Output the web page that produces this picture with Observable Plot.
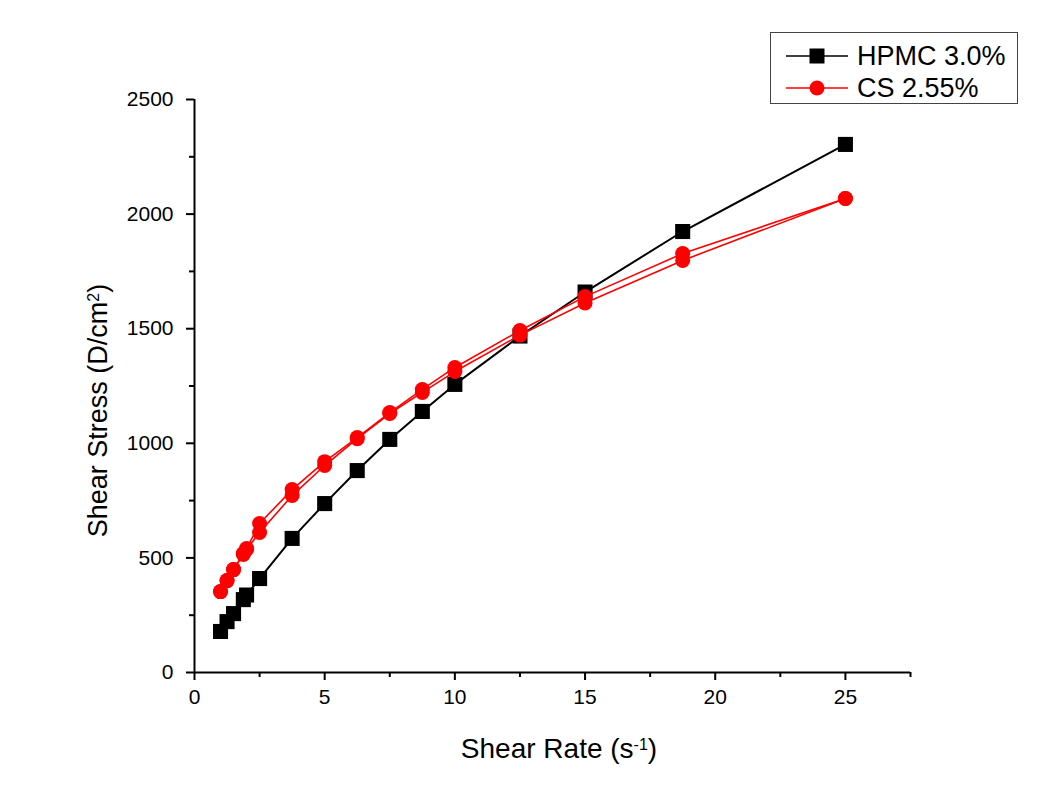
<!DOCTYPE html>
<html>
<head>
<meta charset="utf-8">
<script src="https://cdn.jsdelivr.net/npm/d3@7"></script>
<script src="https://cdn.jsdelivr.net/npm/@observablehq/plot@0.6"></script>
<style>
  html, body { margin: 0; padding: 0; background: #fff; }
  #wrap { position: relative; width: 1041px; height: 796px; font-family: "Liberation Sans", Arial, sans-serif; }
  #legend { position: absolute; left: 770px; top: 32px; width: 246px; height: 70px; border: 1.5px solid #444; background: #fff; box-sizing: content-box; }
  .lrow { display: flex; align-items: center; height: 32px; font-size: 27px; color: #000; }
  .lrow svg { margin-left: 15px; margin-right: 9px; }
</style>
</head>
<body>
<div id="wrap"></div>
<script>
// Data
const shearRate = [1, 1.25, 1.5, 1.875, 2, 2.5, 3.75, 5, 6.25, 7.5, 8.75, 10, 12.5, 15, 18.75, 25];
const hpmc30   = [179, 222, 257, 318, 338, 410, 585, 737, 881, 1017, 1139, 1257, 1468, 1660, 1924, 2304];
const csUp     = [353, 401, 449, 515, 537, 611, 772, 903, 1020, 1130, 1222, 1313, 1472, 1612, 1798, 2068];
const csDown   = [353, 401, 449, 519, 541, 650, 798, 920, 1025, 1134, 1235, 1331, 1492, 1640, 1828, 2068];
const xMajor = [0, 5, 10, 15, 20, 25];
const xMinor = [2.5, 7.5, 12.5, 17.5, 22.5, 27.5];
const yMajor = [0, 500, 1000, 1500, 2000, 2500];
const yMinor = [250, 750, 1250, 1750, 2250];
const seriesNames = ["HPMC 3.0%", "CS 2.55%"];

const hp = shearRate.map((x, i) => ({x, y: hpmc30[i]}));
const up = shearRate.map((x, i) => ({x, y: csUp[i]}));
const down = shearRate.map((x, i) => ({x, y: csDown[i]}));

const font = "'Liberation Sans', Arial, sans-serif";

const chart = Plot.plot({
  width: 1041,
  height: 796,
  marginLeft: 194,
  marginRight: 131,
  marginTop: 99,
  marginBottom: 124,
  style: {fontFamily: font, background: "#fff", color: "#000"},
  x: {domain: [0, 27.5]},
  y: {domain: [0, 2500]},
  marks: [
    Plot.axisX({ticks: xMajor, tickSize: 8, tickPadding: 9, fontSize: 21, strokeWidth: 2, label: null, tickFormat: d => String(d)}),
    Plot.axisX({ticks: xMinor, tickSize: 5, strokeWidth: 2, label: null, tickFormat: () => ""}),
    Plot.axisY({ticks: yMajor, tickSize: 8, tickPadding: 13, fontSize: 21, strokeWidth: 2, label: null, tickFormat: d => String(d)}),
    Plot.axisY({ticks: yMinor, tickSize: 5, strokeWidth: 2, label: null, tickFormat: () => ""}),
    Plot.ruleY([0], {stroke: "#000", strokeWidth: 2}),
    Plot.ruleX([0], {stroke: "#000", strokeWidth: 2}),
    Plot.line(hp, {x: "x", y: "y", stroke: "#000", strokeWidth: 2}),
    Plot.dot(hp, {x: "x", y: "y", symbol: "square", r: 8.5, fill: "#000", stroke: "none"}),
    Plot.line(up, {x: "x", y: "y", stroke: "#ff0000", strokeWidth: 1.6}),
    Plot.line(down, {x: "x", y: "y", stroke: "#ff0000", strokeWidth: 1.6}),
    Plot.dot(up, {x: "x", y: "y", symbol: "circle", r: 7.5, fill: "#ff0000", stroke: "none"}),
    Plot.dot(down, {x: "x", y: "y", symbol: "circle", r: 7.5, fill: "#ff0000", stroke: "none"})
  ]
});

document.getElementById("wrap").appendChild(chart);

// Axis titles with real superscripts
const sx = chart.scale("x"), sy = chart.scale("y");
const svg = d3.select(chart);
const xMid = (sx.apply(0) + sx.apply(27.5)) / 2;
const yMid = (sy.apply(0) + sy.apply(2500)) / 2;
const xt = svg.append("text")
  .attr("x", xMid + 7).attr("y", sy.apply(0) + 86)
  .attr("text-anchor", "middle").attr("font-size", 28).attr("font-family", font).attr("fill", "#000");
xt.append("tspan").text("Shear Rate (s");
xt.append("tspan").attr("baseline-shift", "super").attr("font-size", 16).text("-1");
xt.append("tspan").text(")");

const yt = svg.append("text")
  .attr("transform", `translate(${sx.apply(0) - 87},${yMid + 25}) rotate(-90)`)
  .attr("text-anchor", "middle").attr("font-size", 27).attr("font-family", font).attr("fill", "#000");
yt.append("tspan").text("Shear Stress (D/cm");
yt.append("tspan").attr("baseline-shift", "super").attr("font-size", 16).text("2");
yt.append("tspan").text(")");

// Legend
const legend = document.createElement("div");
legend.id = "legend";
legend.innerHTML = `
  <div class="lrow" style="margin-top:7px"><svg width="62" height="20"><line x1="0" y1="10" x2="62" y2="10" stroke="#000" stroke-width="1.6"/><rect x="23.5" y="2.5" width="15" height="15" fill="#000"/></svg><span>${seriesNames[0]}</span></div>
  <div class="lrow"><svg width="62" height="20"><line x1="0" y1="10" x2="62" y2="10" stroke="#ff0000" stroke-width="1.6"/><circle cx="31" cy="10" r="7.5" fill="#ff0000"/></svg><span>${seriesNames[1]}</span></div>`;
document.getElementById("wrap").appendChild(legend);
</script>
</body>
</html>
